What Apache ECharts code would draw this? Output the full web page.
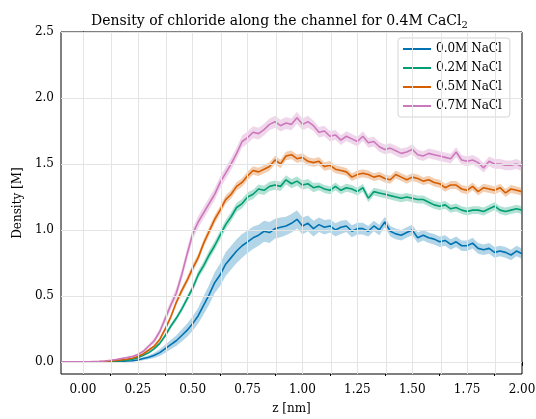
<!DOCTYPE html>
<html>
<head>
<meta charset="utf-8">
<title>Density of chloride along the channel</title>
<script src="https://cdn.jsdelivr.net/npm/echarts@6/dist/echarts.min.js"></script>
<style>
  html, body { margin: 0; padding: 0; background: #fff; }
  #chart { width: 536px; height: 419px; }
</style>
</head>
<body>
<div id="chart"></div>
<script>
// Position along the channel (nm)
const zNm = [
  -0.1, -0.075, -0.05, -0.025, 0, 0.025, 0.05, 0.075, 0.1, 0.125,
  0.15, 0.175, 0.2, 0.225, 0.25, 0.275, 0.3, 0.325, 0.35, 0.375,
  0.4, 0.425, 0.45, 0.475, 0.5, 0.525, 0.55, 0.575, 0.6, 0.625,
  0.65, 0.675, 0.7, 0.725, 0.75, 0.775, 0.8, 0.825, 0.85, 0.875,
  0.9, 0.925, 0.95, 0.975, 1.0, 1.025, 1.05, 1.075, 1.1, 1.125,
  1.15, 1.175, 1.2, 1.225, 1.25, 1.275, 1.3, 1.325, 1.35, 1.375,
  1.4, 1.425, 1.45, 1.475, 1.5, 1.525, 1.55, 1.575, 1.6, 1.625,
  1.65, 1.675, 1.7, 1.725, 1.75, 1.775, 1.8, 1.825, 1.85, 1.875,
  1.9, 1.925, 1.95, 1.975, 2.0
];

// Mean chloride density (M) and its spread, one pair per NaCl concentration
const density00 = [
  0, 0, 0, 0, 0, 0, 0, 0.001, 0.001, 0.002,
  0.003, 0.004, 0.006, 0.009, 0.014, 0.025, 0.035, 0.05, 0.07, 0.10,
  0.13, 0.16, 0.20, 0.24, 0.29, 0.35, 0.43, 0.51, 0.60, 0.66,
  0.74, 0.79, 0.84, 0.88, 0.91, 0.94, 0.96, 0.99, 0.98, 1.01,
  1.02, 1.03, 1.05, 1.08, 1.03, 1.05, 1.01, 1.04, 1.02, 1.03,
  1.00, 1.02, 1.03, 0.99, 1.01, 1.01, 0.99, 1.03, 1.00, 1.06,
  0.99, 0.97, 0.96, 0.98, 1.00, 0.94, 0.96, 0.94, 0.93, 0.91,
  0.92, 0.89, 0.91, 0.88, 0.88, 0.90, 0.86, 0.85, 0.86, 0.83,
  0.84, 0.83, 0.81, 0.84, 0.82
];
const spread00 = [
  0, 0, 0, 0, 0, 0, 0, 0, 0, 0.001,
  0.002, 0.003, 0.004, 0.006, 0.008, 0.012, 0.016, 0.02, 0.025, 0.03,
  0.035, 0.04, 0.045, 0.05, 0.055, 0.06, 0.07, 0.075, 0.08, 0.085,
  0.09, 0.09, 0.09, 0.09, 0.085, 0.085, 0.08, 0.08, 0.08, 0.075,
  0.075, 0.07, 0.07, 0.07, 0.065, 0.06, 0.06, 0.055, 0.055, 0.05,
  0.05, 0.05, 0.045, 0.045, 0.045, 0.045, 0.04, 0.04, 0.04, 0.04,
  0.04, 0.04, 0.04, 0.04, 0.04, 0.04, 0.04, 0.04, 0.04, 0.04,
  0.04, 0.04, 0.04, 0.04, 0.04, 0.04, 0.04, 0.04, 0.04, 0.04,
  0.04, 0.04, 0.04, 0.04, 0.04
];

const density02 = [
  0, 0, 0, 0, 0, 0, 0.001, 0.001, 0.002, 0.004,
  0.006, 0.009, 0.013, 0.02, 0.03, 0.05, 0.07, 0.10, 0.14, 0.20,
  0.27, 0.33, 0.40, 0.48, 0.56, 0.66, 0.73, 0.81, 0.88, 0.96,
  1.04, 1.10, 1.17, 1.20, 1.25, 1.27, 1.31, 1.30, 1.33, 1.34,
  1.33, 1.38, 1.35, 1.37, 1.34, 1.35, 1.32, 1.33, 1.31, 1.30,
  1.33, 1.30, 1.32, 1.31, 1.29, 1.32, 1.24, 1.29, 1.28, 1.27,
  1.26, 1.25, 1.24, 1.25, 1.24, 1.23, 1.23, 1.21, 1.19, 1.18,
  1.19, 1.16, 1.17, 1.15, 1.14, 1.15, 1.15, 1.14, 1.16, 1.18,
  1.15, 1.14, 1.15, 1.16, 1.15
];
const spread02 = [
  0, 0, 0, 0, 0, 0, 0, 0, 0.001, 0.001,
  0.002, 0.002, 0.003, 0.004, 0.005, 0.007, 0.009, 0.011, 0.013, 0.015,
  0.018, 0.02, 0.022, 0.025, 0.027, 0.03, 0.032, 0.035, 0.035, 0.035,
  0.035, 0.035, 0.035, 0.035, 0.035, 0.035, 0.035, 0.035, 0.035, 0.035,
  0.035, 0.035, 0.035, 0.035, 0.035, 0.035, 0.035, 0.03, 0.03, 0.03,
  0.03, 0.03, 0.03, 0.03, 0.03, 0.03, 0.03, 0.03, 0.03, 0.03,
  0.03, 0.03, 0.03, 0.03, 0.03, 0.03, 0.03, 0.03, 0.03, 0.03,
  0.03, 0.03, 0.03, 0.03, 0.03, 0.03, 0.03, 0.03, 0.03, 0.03,
  0.03, 0.03, 0.03, 0.03, 0.03
];

const density05 = [
  0, 0, 0, 0, 0, 0, 0.001, 0.002, 0.004, 0.007,
  0.011, 0.015, 0.02, 0.028, 0.04, 0.06, 0.09, 0.12, 0.17, 0.25,
  0.34, 0.45, 0.54, 0.62, 0.71, 0.79, 0.90, 0.99, 1.08, 1.15,
  1.23, 1.27, 1.33, 1.36, 1.41, 1.45, 1.44, 1.46, 1.48, 1.53,
  1.50, 1.56, 1.57, 1.54, 1.55, 1.52, 1.51, 1.52, 1.48, 1.49,
  1.46, 1.45, 1.44, 1.40, 1.42, 1.43, 1.42, 1.40, 1.41, 1.39,
  1.38, 1.42, 1.40, 1.38, 1.40, 1.39, 1.37, 1.38, 1.36, 1.35,
  1.32, 1.34, 1.34, 1.31, 1.30, 1.33, 1.29, 1.32, 1.31, 1.30,
  1.32, 1.28, 1.31, 1.30, 1.29
];
const spread05 = [
  0, 0, 0, 0, 0, 0, 0, 0, 0.001, 0.001,
  0.002, 0.002, 0.003, 0.004, 0.006, 0.008, 0.01, 0.012, 0.015, 0.018,
  0.02, 0.022, 0.025, 0.027, 0.03, 0.03, 0.03, 0.032, 0.032, 0.032,
  0.032, 0.032, 0.032, 0.032, 0.032, 0.032, 0.032, 0.032, 0.032, 0.032,
  0.032, 0.032, 0.032, 0.032, 0.032, 0.032, 0.032, 0.032, 0.032, 0.032,
  0.03, 0.03, 0.03, 0.03, 0.03, 0.03, 0.03, 0.03, 0.03, 0.03,
  0.03, 0.03, 0.03, 0.03, 0.03, 0.03, 0.03, 0.03, 0.03, 0.03,
  0.03, 0.03, 0.03, 0.03, 0.03, 0.03, 0.03, 0.03, 0.03, 0.03,
  0.03, 0.03, 0.03, 0.03, 0.03
];

const density07 = [
  0, 0, 0, 0, 0, 0, 0.002, 0.004, 0.007, 0.012,
  0.018, 0.025, 0.032, 0.04, 0.055, 0.08, 0.12, 0.16, 0.23, 0.33,
  0.43, 0.52, 0.66, 0.82, 0.97, 1.06, 1.13, 1.20, 1.27, 1.36,
  1.43, 1.50, 1.58, 1.67, 1.70, 1.74, 1.73, 1.76, 1.80, 1.82,
  1.79, 1.81, 1.80, 1.85, 1.80, 1.82, 1.79, 1.74, 1.75, 1.71,
  1.72, 1.68, 1.71, 1.69, 1.67, 1.71, 1.66, 1.67, 1.63, 1.61,
  1.62, 1.60, 1.58, 1.59, 1.61, 1.57, 1.56, 1.58, 1.57, 1.56,
  1.55, 1.54, 1.59, 1.53, 1.52, 1.53, 1.51, 1.47, 1.52, 1.50,
  1.50, 1.49, 1.49, 1.50, 1.48
];
const spread07 = [
  0, 0, 0, 0, 0, 0, 0.001, 0.001, 0.002, 0.003,
  0.004, 0.005, 0.006, 0.007, 0.009, 0.012, 0.015, 0.02, 0.025, 0.03,
  0.035, 0.04, 0.042, 0.045, 0.045, 0.045, 0.045, 0.045, 0.045, 0.045,
  0.045, 0.045, 0.045, 0.045, 0.045, 0.045, 0.045, 0.045, 0.045, 0.045,
  0.045, 0.045, 0.045, 0.045, 0.045, 0.045, 0.04, 0.04, 0.04, 0.04,
  0.037, 0.037, 0.037, 0.037, 0.037, 0.037, 0.037, 0.037, 0.037, 0.037,
  0.037, 0.037, 0.037, 0.037, 0.037, 0.037, 0.037, 0.037, 0.037, 0.037,
  0.037, 0.037, 0.037, 0.037, 0.037, 0.037, 0.037, 0.037, 0.037, 0.037,
  0.037, 0.037, 0.037, 0.037, 0.037
];

const seriesNames = ['0.0M NaCl', '0.2M NaCl', '0.5M NaCl', '0.7M NaCl'];
const seriesColors = ['#0173b2', '#029e73', '#d55e00', '#cc78bc'];
const means = [density00, density02, density05, density07];
const spreads = [spread00, spread02, spread05, spread07];

// Tick positions
const xMajorTicks = [0, 0.25, 0.5, 0.75, 1.0, 1.25, 1.5, 1.75, 2.0];
const xMinorTicks = [0.125, 0.375, 0.625, 0.875, 1.125, 1.375, 1.625, 1.875];
const xGridLines = [0, 0.125, 0.25, 0.375, 0.5, 0.625, 0.75, 0.875, 1.0, 1.125,
                    1.25, 1.375, 1.5, 1.625, 1.75, 1.875];
const yMajorTicks = [0, 0.5, 1.0, 1.5, 2.0, 2.5];

const FONT = 'DejaVu Serif';
const GRID_COLOR = '#e4e4e4';

function hexToRgba(hex, a) {
  const n = parseInt(hex.slice(1), 16);
  return 'rgba(' + ((n >> 16) & 255) + ',' + ((n >> 8) & 255) + ',' + (n & 255) + ',' + a + ')';
}

const series = [];

// Background grid lines drawn on the value scales
series.push({
  name: 'grid',
  type: 'line',
  data: [],
  silent: true,
  z: 0,
  markLine: {
    silent: true,
    symbol: ['none', 'none'],
    label: { show: false },
    emphasis: { disabled: true },
    animation: false,
    lineStyle: { color: GRID_COLOR, width: 1, type: 'solid' },
    data: xGridLines.map(v => ({ xAxis: v }))
      .concat(yMajorTicks.map(v => ({ yAxis: v })))
  }
});

seriesNames.forEach((name, i) => {
  const m = means[i], s = spreads[i], c = seriesColors[i];
  const bandData = zNm.map((z, k) => [z, m[k] - s[k], m[k] + s[k]]);
  // shaded spread band: one polygon through (z, mean+spread) and back along (z, mean-spread)
  series.push({
    name: name + ' band',
    type: 'custom',
    data: bandData,
    encode: { x: 0, y: [1, 2] },
    silent: true,
    clip: true,
    z: 2,
    renderItem: function (params, api) {
      if (params.dataIndex !== 0) return null;
      const upper = bandData.map(d => api.coord([d[0], d[2]]));
      const lower = bandData.map(d => api.coord([d[0], d[1]])).reverse();
      return {
        type: 'polygon',
        shape: { points: upper.concat(lower) },
        style: { fill: hexToRgba(c, 0.3), stroke: 'none' }
      };
    }
  });
  // mean profile
  series.push({
    name: name,
    type: 'line',
    data: zNm.map((z, k) => [z, m[k]]),
    showSymbol: false,
    symbol: 'none',
    color: c,
    lineStyle: { color: c, width: 1.6 },
    z: 3
  });
});

const chart = echarts.init(document.getElementById('chart'), null, { renderer: 'canvas' });

chart.setOption({
  animation: false,
  backgroundColor: '#ffffff',
  title: {
    text: 'Density of chloride along the channel for 0.4M CaCl{sub|2}',
    left: 86,
    top: 7,
    textStyle: {
      fontFamily: FONT,
      fontSize: 14,
      fontWeight: 'normal',
      color: '#000',
      rich: {
        sub: { fontFamily: FONT, fontSize: 10, color: '#000', padding: [8, 0, 0, 0], verticalAlign: 'bottom' }
      }
    }
  },
  legend: {
    data: seriesNames,
    orient: 'vertical',
    left: 398,
    top: 38,
    icon: 'rect',
    itemWidth: 28,
    itemHeight: 2,
    itemGap: 5,
    padding: [4, 8, 4, 5],
    backgroundColor: 'rgba(255,255,255,0.85)',
    borderColor: '#d4d4d4',
    borderWidth: 1,
    borderRadius: 3,
    textStyle: { fontFamily: FONT, fontSize: 12, color: '#000', lineHeight: 14 }
  },
  grid: {
    left: 61,
    right: 14,
    top: 32,
    bottom: 45,
    show: true,
    borderColor: '#000',
    borderWidth: 1,
    backgroundColor: 'transparent',
    containLabel: false,
    outerBoundsMode: 'none'
  },
  xAxis: [{
    type: 'value',
    min: -0.1,
    max: 2.0,
    name: 'z [nm]',
    nameLocation: 'middle',
    nameGap: 29,
    nameTextStyle: { fontFamily: FONT, fontSize: 12, color: '#000' },
    axisLine: { show: true, lineStyle: { color: '#000', width: 1 } },
    axisTick: { show: true, length: 4, customValues: xMajorTicks, lineStyle: { color: '#000' } },
    axisLabel: {
      customValues: xMajorTicks,
      formatter: v => v.toFixed(2),
      margin: 10,
      fontFamily: FONT, fontSize: 12, color: '#000'
    },
    splitLine: { show: false }
  }, {
    // minor ticks on the z axis
    type: 'value',
    min: -0.1,
    max: 2.0,
    position: 'bottom',
    axisLine: { show: false },
    axisTick: { show: true, length: 2, customValues: xMinorTicks, lineStyle: { color: '#000' } },
    axisLabel: { show: false, customValues: xMinorTicks },
    splitLine: { show: false }
  }],
  yAxis: {
    type: 'value',
    min: -0.092,
    max: 2.5,
    name: 'Density [M]',
    nameLocation: 'middle',
    nameGap: 36,
    nameTextStyle: { fontFamily: FONT, fontSize: 12, color: '#000' },
    axisLine: { show: true, lineStyle: { color: '#000', width: 1 } },
    axisTick: { show: true, length: 4, customValues: yMajorTicks, lineStyle: { color: '#000' } },
    axisLabel: {
      customValues: yMajorTicks,
      formatter: v => v.toFixed(1),
      margin: 7,
      fontFamily: FONT, fontSize: 12, color: '#000'
    },
    splitLine: { show: false }
  },
  series: series
});
</script>
</body>
</html>
